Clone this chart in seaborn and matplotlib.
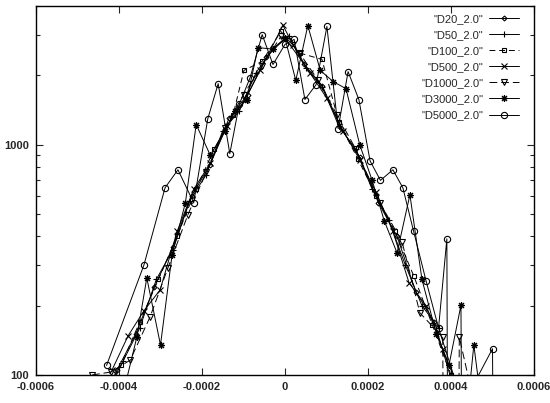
import numpy as np
import pandas as pd
import seaborn as sns
import matplotlib
matplotlib.use("Agg")
import matplotlib.pyplot as plt
from matplotlib.ticker import FixedLocator, FixedFormatter, LogLocator, NullFormatter

# ---- data (x values in units of 1e-4, converted below) ----
series_names = ['"D20_2.0"', '"D50_2.0"', '"D100_2.0"', '"D500_2.0"',
                '"D1000_2.0"', '"D3000_2.0"', '"D5000_2.0"']

x_D20 = [-4.5, -4.05, -3.6, -3.15, -2.7, -2.25, -1.8, -1.35, -0.9, -0.45, 0.0,
         0.45, 0.9, 1.35, 1.8, 2.25, 2.7, 3.15, 3.6, 4.05, 4.5]
y_D20 = [70, 105, 150, 240, 360, 600, 820, 1300, 1650, 2400, 2900,
         2250, 1800, 1180, 880, 560, 400, 230, 170, 90, 60]

x_D50 = [-4.3, -3.9, -3.5, -3.1, -2.7, -2.3, -1.9, -1.5, -1.1, -0.7, -0.3, 0.1,
         0.5, 0.9, 1.3, 1.7, 2.1, 2.5, 2.9, 3.3, 3.7, 4.1, 4.5]
y_D50 = [85, 115, 160, 260, 350, 570, 740, 1150, 1400, 2050, 2600, 2950,
         2150, 1780, 1200, 960, 640, 470, 300, 200, 160, 95, 70]

x_D100 = [-4.4, -3.95, -3.5, -3.05, -2.6, -2.15, -1.7, -1.25, -0.99, -0.55, -0.1,
          0.35, 0.89, 1.3, 1.75, 2.2, 2.65, 3.1, 3.55, 4.0, 4.45]
y_D100 = [75, 110, 170, 260, 400, 640, 960, 1350, 2100, 2300, 3100,
          2500, 2346, 1250, 870, 600, 420, 270, 165, 100, 60]

x_D500 = [-4.17, -3.78, -3.4, -3.01, -2.6, -2.2, -1.8, -1.4, -0.96, -0.6, -0.05,
          0.2, 0.6, 1.0, 1.4, 1.8, 2.2, 2.6, 2.99, 3.4, 3.8, 4.2]
y_D500 = [105, 148, 190, 234, 420, 640, 830, 1200, 1570, 2100, 3300,
          2700, 2050, 1600, 1150, 860, 620, 420, 251, 200, 130, 85]

x_D1000 = [-4.65, -4.2, -3.73, -3.25, -2.82, -2.34, -1.9, -1.45, -1.0, -0.55, -0.1,
           0.35, 0.8, 1.25, 1.7, 2.29, 2.82, 3.25, 3.8, 3.82, 4.18, 4.2, 4.6]
y_D1000 = [100, 103, 116, 179, 292, 496, 760, 1180, 1650, 2200, 2950,
           2500, 1900, 1350, 960, 558, 379, 186, 146, 40, 40, 146, 70]

x_D3000 = [-4.0, -3.57, -3.33, -3.0, -2.72, -2.4, -2.14, -1.8, -1.45, -1.2, -0.92,
           -0.65, -0.3, 0.0, 0.26, 0.55, 0.85, 1.16, 1.47, 1.8, 2.1, 2.39, 2.7,
           3.01, 3.3, 3.65, 3.95, 4.24, 4.26, 4.55, 4.8]
y_D3000 = [70, 146, 264, 135, 333, 560, 1222, 900, 1150, 1400, 1570,
           2640, 2600, 2900, 1900, 3290, 2100, 1880, 1750, 1000, 700, 468, 339,
           606, 260, 150, 110, 201, 40, 135, 60]

x_D5000 = [-4.3, -3.4, -2.89, -2.58, -2.2, -1.86, -1.61, -1.33, -1.1, -0.84, -0.55,
           -0.29, 0.0, 0.22, 0.48, 0.75, 1.01, 1.28, 1.52, 1.78, 2.05, 2.3, 2.6,
           2.84, 3.1, 3.4, 3.7, 3.9, 3.92, 4.6, 5.0, 5.02]
y_D5000 = [110, 300, 650, 778, 560, 1297, 1841, 914, 1500, 1955, 3006,
           2229, 2725, 2864, 1570, 1824, 3260, 1175, 2076, 1570, 850, 700, 778,
           650, 420, 256, 160, 390, 40, 95, 130, 40]

x_lists = [x_D20, x_D50, x_D100, x_D500, x_D1000, x_D3000, x_D5000]
y_lists = [y_D20, y_D50, y_D100, y_D500, y_D1000, y_D3000, y_D5000]

x_ticks = [-0.0006, -0.0004, -0.0002, 0.0, 0.0002, 0.0004, 0.0006]
x_ticklabels = ["-0.0006", "-0.0004", "-0.0002", "0", "0.0002", "0.0004", "0.0006"]
y_ticks = [100, 1000]
y_ticklabels = ["100", "1000"]

rows = []
for name, xs, ys in zip(series_names, x_lists, y_lists):
    for xv, yv in zip(xs, ys):
        rows.append({"series": name, "x": xv * 1e-4, "y": yv})
df = pd.DataFrame(rows)

sns.set_style("ticks")
plt.rcParams["font.family"] = ["Liberation Sans", "DejaVu Sans"]

fig = plt.figure(figsize=(5.5, 4.03), dpi=100)
ax = fig.add_axes([36 / 550, 28 / 403, 498 / 550, 369 / 403])

marker_list = ["D", "+", "s", "x", "v", (8, 2, 0), "o"]
msizes = [2.5, 5.0, 3.5, 4.0, 4.5, 5.0, 4.5]
dashes = {
    '"D20_2.0"': "",
    '"D50_2.0"': "",
    '"D100_2.0"': (6, 4),
    '"D500_2.0"': "",
    '"D1000_2.0"': (8, 4),
    '"D3000_2.0"': "",
    '"D5000_2.0"': "",
}
palette = {n: "black" for n in series_names}

sns.lineplot(data=df, x="x", y="y", hue="series", style="series",
             hue_order=series_names, style_order=series_names,
             markers=False, dashes=dashes, palette=palette,
             estimator=None, sort=False, legend=False, ax=ax,
             linewidth=0.7)

for ln, mk, ms in zip(ax.lines, marker_list, msizes):
    ln.set_marker(mk)
    ln.set_markersize(ms)
    ln.set_markerfacecolor("none")
    ln.set_markeredgecolor("black")
    ln.set_markeredgewidth(0.8)

ax.set_yscale("log")
ax.set_xlim(-0.0006, 0.0006)
ax.set_ylim(100, 4000)

ax.xaxis.set_major_locator(FixedLocator(x_ticks))
ax.xaxis.set_major_formatter(FixedFormatter(x_ticklabels))
ax.yaxis.set_major_locator(FixedLocator(y_ticks))
ax.yaxis.set_major_formatter(FixedFormatter(y_ticklabels))
ax.yaxis.set_minor_locator(LogLocator(base=10, subs=np.arange(2, 10)))
ax.yaxis.set_minor_formatter(NullFormatter())

ax.tick_params(axis="both", which="both", direction="in", top=True, right=True,
               labelsize=8, pad=5, width=0.8)
ax.tick_params(axis="both", which="major", length=5)
ax.tick_params(axis="y", which="minor", length=3)
for lab in ax.get_xticklabels() + ax.get_yticklabels():
    lab.set_fontweight("bold")
for sp in ax.spines.values():
    sp.set_visible(True)
    sp.set_linewidth(1.0)
    sp.set_color("black")

ax.set_xlabel("")
ax.set_ylabel("")

leg = ax.legend(handles=list(ax.lines[:7]), labels=series_names,
                loc="upper right", bbox_to_anchor=(0.985, 1.0),
                markerfirst=False, frameon=False, fontsize=8,
                handlelength=2.7, handletextpad=0.5, labelspacing=0.55,
                borderaxespad=0.3)

fig.savefig("out.png", dpi=100)
